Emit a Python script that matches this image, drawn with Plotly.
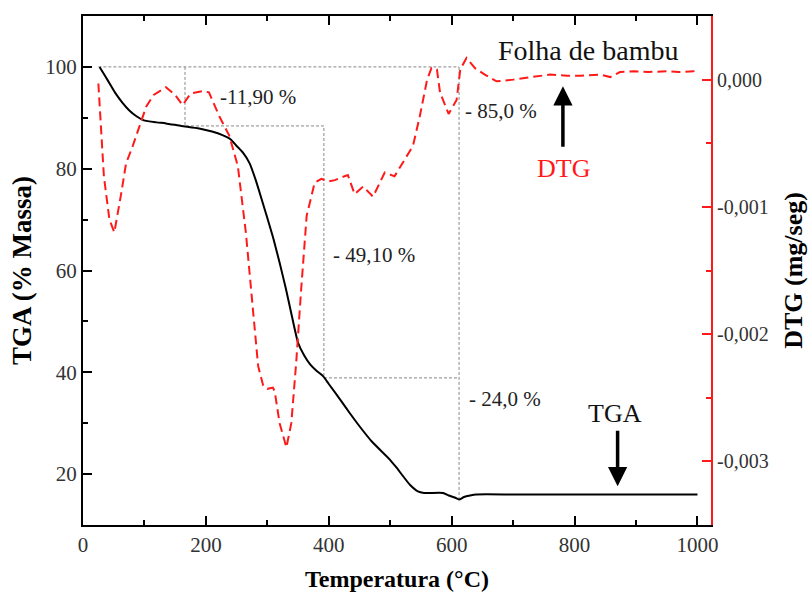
import plotly.graph_objects as go

# ---------------- data ----------------
tga_T = [27, 37, 45, 53, 64, 75, 87, 99, 120, 135, 160, 189, 210, 227, 240, 249, 260, 271,
         281, 290, 300, 310, 320, 330, 340, 350, 360, 370, 380, 391, 400, 420, 434, 450, 470,
         499, 510, 532, 545, 555, 586, 595, 605, 612, 620, 630, 640, 700, 800, 900, 1000]
tga_mass = [100, 98.0, 96.4, 94.8, 93.0, 91.5, 90.3, 89.5, 89.1, 88.9, 88.4, 87.9, 87.3, 86.6,
            85.8, 84.6, 83.2, 81.1, 77.8, 74.3, 70.3, 66.2, 61.5, 56.5, 51.0, 45.8, 43.3, 41.5,
            40.3, 39.2, 37.7, 34.4, 32.0, 29.4, 26.4, 22.9, 21.3, 17.9, 16.6, 16.3, 16.3, 15.8,
            15.4, 15.0, 15.5, 15.8, 16.0, 16.0, 16.0, 16.0, 16.0]

dtg_T = [25, 34, 43, 51, 62, 70, 81, 92, 103, 115, 135, 150, 162, 175, 195, 205, 222, 238,
         252, 265, 274, 285, 293, 300, 309, 312, 320, 331, 339, 347, 355, 364, 377, 388, 400,
         410, 420, 431, 442, 456, 472, 491, 507, 521, 537, 548, 560, 567, 576, 581, 595, 608,
         614, 624, 638, 654, 673, 700, 730, 760, 788, 810, 842, 858, 866, 874, 896, 920, 950,
         970, 994, 1000]
dtg_val = [-0.00003, -0.00076, -0.00110, -0.00120, -0.00090, -0.00066, -0.00052, -0.00037,
           -0.00021, -0.00012, -0.00006, -0.00012, -0.00020, -0.00011, -0.00009, -0.00010,
           -0.00029, -0.00044, -0.00068, -0.00120, -0.00170, -0.00225, -0.00240, -0.00243,
           -0.00242, -0.00245, -0.00270, -0.00289, -0.00270, -0.00222, -0.00165, -0.00107,
           -0.00081, -0.00078, -0.00080, -0.00079, -0.00077, -0.00075, -0.00090, -0.00084,
           -0.00092, -0.00073, -0.00076, -0.00065, -0.00052, -0.00029, 0.0, 0.00009, 0.00008,
           -0.00010, -0.00027, -0.00016, 0.00008, 0.00017, 0.00009, 0.00004, -0.000013, 0.0,
           0.00002, 0.00004, 0.00003, 0.00003, 0.00004, 0.00002, 0.00004, 0.00006, 0.000065,
           0.00006, 0.000065, 0.00006, 0.000065, 0.00004]

step_T = [25, 166, 392, 612]
step_mass = [100, 88.4, 38.9, 15.0]

x_ticks = [0, 200, 400, 600, 800, 1000]
y_ticks = [20, 40, 60, 80, 100]
y2_ticks = [-0.003, -0.002, -0.001, 0.0]
y2_labels = ["-0,003", "-0,002", "-0,001", "0,000"]

loss_labels = ["-11,90 %", "- 49,10 %", "- 85,0 %", "- 24,0 %"]
loss_pos = [(219, 94.1), (403, 63.1), (618, 91.3), (625, 34.8)]

# ---------------- figure ----------------
SERIF = "Liberation Serif"
fig = go.Figure()

ref_color = "#888888"
ref_dash = "3px,2px"
fig.add_trace(go.Scatter(x=[step_T[0], step_T[3]], y=[step_mass[0], step_mass[0]], mode="lines",
                         line=dict(color=ref_color, width=1, dash=ref_dash), showlegend=False))
fig.add_trace(go.Scatter(x=[step_T[1], step_T[1], step_T[2], step_T[2], step_T[3]],
                         y=[step_mass[0], step_mass[1], step_mass[1], step_mass[2], step_mass[2]],
                         mode="lines", line=dict(color=ref_color, width=1, dash=ref_dash),
                         showlegend=False))
fig.add_trace(go.Scatter(x=[step_T[3], step_T[3]], y=[step_mass[0], step_mass[3]], mode="lines",
                         line=dict(color=ref_color, width=1, dash=ref_dash), showlegend=False))

fig.add_trace(go.Scatter(x=dtg_T, y=dtg_val, mode="lines", yaxis="y2",
                         line=dict(color="#ff1a1a", width=2, dash="9px,5px"),
                         showlegend=False))
fig.add_trace(go.Scatter(x=tga_T, y=tga_mass, mode="lines", line=dict(color="black", width=2,
                         shape="spline", smoothing=0.5), showlegend=False))

annotations = []
for txt, (xx, yy) in zip(loss_labels, loss_pos):
    annotations.append(dict(x=xx, y=yy, text=txt, showarrow=False, xanchor="left",
                            yanchor="middle", font=dict(family=SERIF, size=21, color="#222")))
annotations.append(dict(x=822, y=103.3, text="Folha de bambu", showarrow=False,
                        font=dict(family=SERIF, size=28, color="#111")))
annotations.append(dict(x=782, y=80.1, text="DTG", showarrow=False,
                        font=dict(family=SERIF, size=26, color="#ff1a1a")))
annotations.append(dict(x=865, y=32.0, text="TGA", showarrow=False,
                        font=dict(family=SERIF, size=26, color="#111")))
annotations.append(dict(x=781, y=96.2, ax=0, ay=62, text="", showarrow=True, arrowhead=2,
                        arrowsize=1.1, arrowwidth=3.5, arrowcolor="black"))
annotations.append(dict(x=870, y=17.6, ax=0, ay=-57, text="", showarrow=True, arrowhead=2,
                        arrowsize=1.1, arrowwidth=3.5, arrowcolor="black"))

fig.update_layout(
    width=811, height=599,
    margin=dict(l=83, r=100, t=16, b=74),
    paper_bgcolor="white", plot_bgcolor="white",
    font=dict(family=SERIF, color="#222"),
    annotations=annotations,
    xaxis=dict(range=[0, 1022], tickvals=x_ticks, ticks="inside", ticklen=9, tickwidth=1.5,
               tickcolor="black", showline=True, linecolor="black", linewidth=2, mirror="ticks",
               showgrid=False, zeroline=False, automargin=False,
               minor=dict(tickvals=[100, 300, 500, 700, 900], ticks="inside", ticklen=5,
                          tickwidth=1.5, tickcolor="black"),
               tickfont=dict(family=SERIF, size=21, color="#333"),
               title=dict(text="<b>Temperatura (°C)</b>", standoff=14,
                          font=dict(family=SERIF, size=24, color="black"))),
    yaxis=dict(range=[10, 110], tickvals=y_ticks, ticks="inside", ticklen=9, tickwidth=1.5,
               tickcolor="black", showline=True, linecolor="black", linewidth=2,
               showgrid=False, zeroline=False, automargin=False,
               minor=dict(tickvals=[30, 50, 70, 90], ticks="inside", ticklen=5, tickwidth=1.5,
                          tickcolor="black"),
               tickfont=dict(family=SERIF, size=21, color="#333"),
               title=dict(text="<b>TGA (% Massa)</b>", standoff=6,
                          font=dict(family=SERIF, size=27, color="black"))),
    yaxis2=dict(range=[-0.0035, 0.0005], overlaying="y", side="right", tickvals=y2_ticks,
                ticktext=y2_labels, ticks="inside", ticklen=9, tickwidth=1.5, tickcolor="#ff1a1a",
                showline=True, linecolor="#ff1a1a", linewidth=2, showgrid=False, zeroline=False,
                automargin=False,
                minor=dict(tickvals=[-0.0025, -0.0015, -0.0005], ticks="inside", ticklen=5,
                           tickwidth=1.5, tickcolor="#ff1a1a"),
                tickfont=dict(family=SERIF, size=20, color="#333"),
                title=dict(text="<b>DTG (mg/seg)</b>", standoff=16,
                           font=dict(family=SERIF, size=26, color="black"))),
)

fig.write_html("out.html")
